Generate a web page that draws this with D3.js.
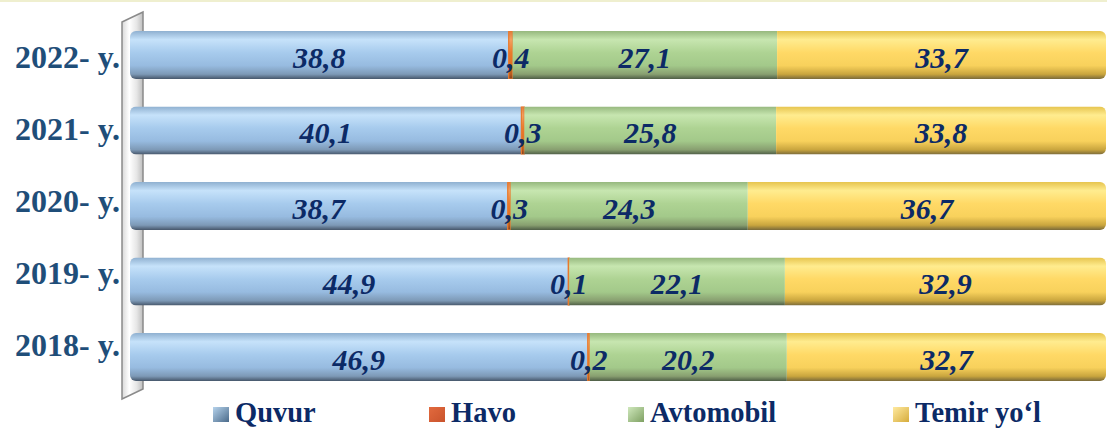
<!DOCTYPE html>
<html>
<head>
<meta charset="utf-8">
<script src="https://cdn.jsdelivr.net/npm/d3@7"></script>
<style>
  html, body { margin: 0; padding: 0; background: #ffffff; }
  svg { display: block; }
</style>
</head>
<body>
<svg id="chart" width="1107" height="429"></svg>
<script>
// Transport structure by year, percent of total
const years = ["2022- y.", "2021- y.", "2020- y.", "2019- y.", "2018- y."];
const seriesNames = ["Quvur", "Havo", "Avtomobil", "Temir yo‘l"];
const quvur    = [38.8, 40.1, 38.7, 44.9, 46.9];
const havo     = [0.4, 0.3, 0.3, 0.1, 0.2];
const avtomobil = [27.1, 25.8, 24.3, 22.1, 20.2];
const temirYol = [33.7, 33.8, 36.7, 32.9, 32.7];
const seriesValues = [quvur, havo, avtomobil, temirYol];

const W = 1107, H = 429;
const svg = d3.select("#chart");

const rows = years.map((y, i) => {
  const r = { year: y };
  seriesNames.forEach((s, k) => { r[s] = seriesValues[k][i]; });
  return r;
});
const stacked = d3.stack().keys(seriesNames)(rows);

const x = d3.scaleLinear().domain([0, 100]).range([130, 1106]);
const y = d3.scaleBand().domain(years).range([31, 381]).paddingInner(0.364).paddingOuter(0);
const yLabel = d3.scalePoint().domain(years).range([57, 345]);

// Cylinder-like shading for each series
const shades = {
  "Quvur":      ["#8fb0d0", "#c6e2fa", "#a7cbed", "#97bbe0", "#7d99b6", "#46566a"],
  "Havo":       ["#e07a3a", "#f3a060", "#ea7a2c", "#e06f22", "#b85a1e", "#7a4020"],
  "Avtomobil":  ["#96b87e", "#c7e6b0", "#aed393", "#a3c98a", "#889f70", "#4e5d46"],
  "Temir yo‘l": ["#e6c44e", "#ffec8f", "#ffd966", "#f8d15c", "#c9a53e", "#7a6a3a"]
};
const defs = svg.append("defs");
seriesNames.forEach((s, k) => {
  const g = defs.append("linearGradient").attr("id", "g" + k)
    .attr("x1", 0).attr("y1", 0).attr("x2", 0).attr("y2", 1);
  const c = shades[s];
  [[0, c[0]], [0.18, c[1]], [0.45, c[2]], [0.72, c[3]], [0.9, c[4]], [1, c[5]]]
    .forEach(([o, col]) => g.append("stop").attr("offset", o).attr("stop-color", col));
});

// Wall gradient
const wg = defs.append("linearGradient").attr("id", "wall")
  .attr("x1", 0).attr("y1", 0).attr("x2", 1).attr("y2", 0);
[[0, "#d8d8d8"], [0.35, "#ffffff"], [0.7, "#e6e6e6"], [1, "#bdbdbd"]]
  .forEach(([o, col]) => wg.append("stop").attr("offset", o).attr("stop-color", col));

// Legend marker gradients
const legendShades = [
  ["#b6d3ec", "#4a6a8a"],
  ["#e26a3e", "#c9532c"],
  ["#cfe8bc", "#7ea062"],
  ["#ffeaa0", "#d6ac3c"]
];
legendShades.forEach((c, k) => {
  const g = defs.append("linearGradient").attr("id", "lg" + k)
    .attr("x1", 0).attr("y1", 0).attr("x2", 1).attr("y2", 1);
  g.append("stop").attr("offset", 0).attr("stop-color", c[0]);
  g.append("stop").attr("offset", 1).attr("stop-color", c[1]);
});

// Thin top border
svg.append("rect").attr("x", 0).attr("y", 0).attr("width", W).attr("height", 2)
  .attr("fill", "#efefcf");

// 3-D side wall of the category axis
svg.append("path")
  .attr("d", "M122,22 L143,12 L143,389 L122,399 Z")
  .attr("fill", "url(#wall)")
  .attr("stroke", "#8a8a8a").attr("stroke-width", 1.5);

// Rounded clip per bar row
years.forEach((yr, i) => {
  defs.append("clipPath").attr("id", "clip" + i)
    .append("rect")
    .attr("x", x(0)).attr("y", y(yr))
    .attr("width", x(100) - x(0)).attr("height", y.bandwidth())
    .attr("rx", 6).attr("ry", 6);
});

const barsG = svg.append("g");
years.forEach((yr, i) => {
  const row = barsG.append("g").attr("clip-path", `url(#clip${i})`);
  stacked.forEach((layer, k) => {
    const d = layer[i];
    row.append("rect")
      .attr("x", x(d[0]))
      .attr("y", y(yr))
      .attr("width", Math.max(0, x(d[1]) - x(d[0])))
      .attr("height", y.bandwidth())
      .attr("fill", `url(#g${k})`)
      // thin series get an edge so they stay visible
      .attr("stroke", seriesNames[k] === "Havo" ? "#e8792c" : "none")
      .attr("stroke-width", 1.2);
  });
});

// Value labels
const fmt = v => d3.format(".1f")(v).replace(".", ",");
const labelsG = svg.append("g")
  .attr("font-family", "'Liberation Serif', 'Times New Roman', serif")
  .attr("font-weight", "bold").attr("font-style", "italic")
  .attr("font-size", 30).attr("fill", "#0c2a66")
  .attr("text-anchor", "middle");
stacked.forEach((layer) => {
  layer.forEach((d, i) => {
    labelsG.append("text")
      .attr("x", (x(d[0]) + x(d[1])) / 2)
      .attr("y", y(years[i]) + y.bandwidth() / 2)
      .attr("dy", "0.42em")
      .text(fmt(d[1] - d[0]));
  });
});

// Category labels
svg.append("g")
  .attr("font-family", "'Liberation Serif', 'Times New Roman', serif")
  .attr("font-weight", "bold").attr("font-size", 32).attr("fill", "#1f4e79")
  .attr("text-anchor", "end")
  .selectAll("text").data(years).join("text")
  .attr("x", 120)
  .attr("y", d => yLabel(d))
  .attr("dy", "0.34em")
  .text(d => d);

// Legend
const legendX = d3.scaleOrdinal().domain(seriesNames).range([213, 429, 628, 893]);
const leg = svg.append("g");
seriesNames.forEach((s, k) => {
  const lx = legendX(s);
  leg.append("rect").attr("x", lx).attr("y", 407).attr("width", 16).attr("height", 15)
    .attr("fill", `url(#lg${k})`);
  leg.append("text")
    .attr("x", lx + 22).attr("y", 422)
    .attr("font-family", "'Liberation Serif', 'Times New Roman', serif")
    .attr("font-weight", "bold").attr("font-size", 28.5).attr("fill", "#0c2a66")
    .text(s);
});
</script>
</body>
</html>
